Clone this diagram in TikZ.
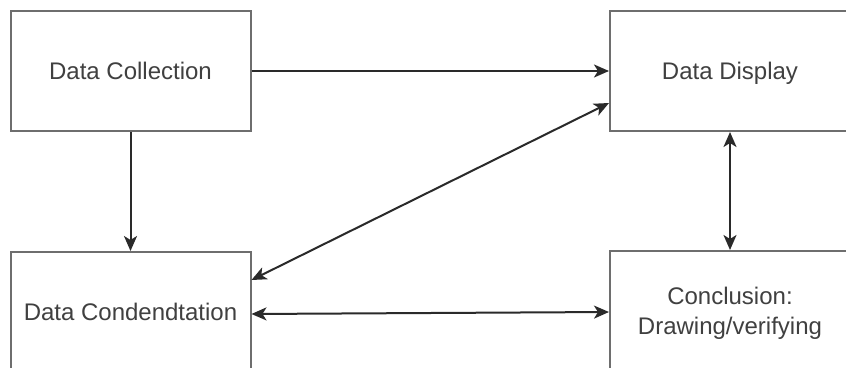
\documentclass[tikz,border=0pt]{standalone}
\usepackage{fontspec}
\setmainfont{Liberation Sans}
\usetikzlibrary{arrows.meta,calc}
\definecolor{boxline}{HTML}{6E6E6E}
\definecolor{txt}{HTML}{404040}
\definecolor{arr}{HTML}{2A2A2A}
\newcommand\lblstrut{\rule[-4.4pt]{0pt}{26pt}}
\tikzset{
  stagebox/.style={draw=boxline, line width=2pt, fill=white, rectangle,
    minimum width=240pt, minimum height=120pt, inner sep=0pt,
    text=txt, font=\fontsize{24}{30}\selectfont, align=center},
  conn/.style={draw=arr, line width=2pt, -{Stealth[length=15pt,width=13pt,inset=4pt]}},
  dconn/.style={draw=arr, line width=2pt, {Stealth[length=15pt,width=13pt,inset=4pt]}-{Stealth[length=15pt,width=13pt,inset=4pt]}}
}
\begin{document}
\begin{tikzpicture}[x=1pt,y=-1pt]
\useasboundingbox (0,0) rectangle (846,367);
\clip (0,0) rectangle (846,367);
\fill[white] (0,0) rectangle (846,367);
\node[stagebox] (coll) at (130.5,71) {\lblstrut Data Collection};
\node[stagebox] (disp) at (730,71) {\lblstrut Data Display};
\node[stagebox] (cond) at (130.5,312) {\lblstrut Data Condendtation};
\node[stagebox] (concl) at (730,311) {\lblstrut Conclusion:\\\lblstrut Drawing/verifying};
\draw[conn] (coll.east) -- (disp.west);
\draw[conn] (coll.south) -- (cond.north);
\draw[dconn] ([yshift=32pt]cond.east) -- ([yshift=-32pt]disp.west);
\draw[dconn] ([yshift=-2pt]cond.east) -- ([yshift=-1pt]concl.west);
\draw[dconn] (disp.south) -- (concl.north);
\end{tikzpicture}
\end{document}
